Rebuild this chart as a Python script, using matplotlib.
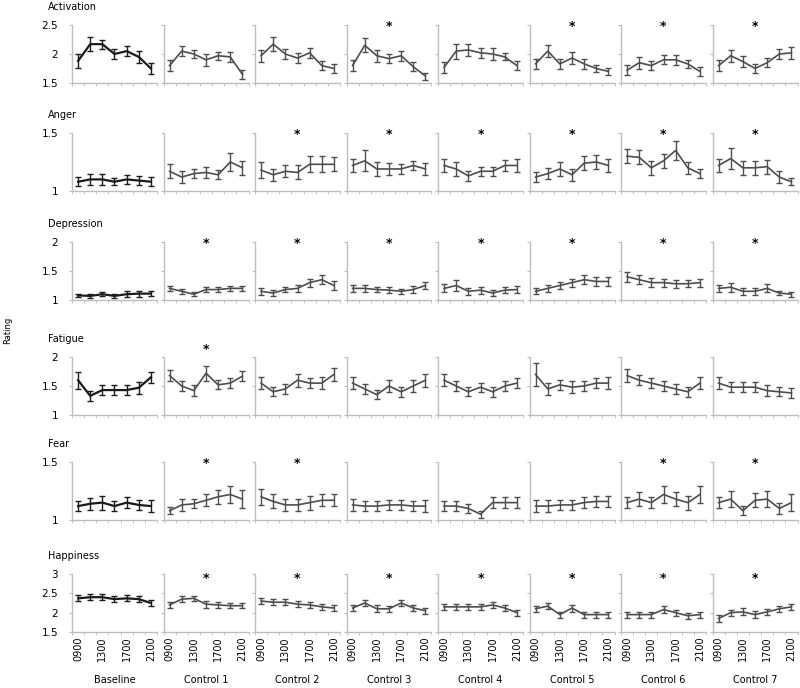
import numpy as np
import matplotlib
matplotlib.use('Agg')
import matplotlib.pyplot as plt

hours = ['0900', '1100', '1300', '1500', '1700', '1900', '2100']
conditions = ['Baseline', 'Control 1', 'Control 2', 'Control 3', 'Control 4',
              'Control 5', 'Control 6', 'Control 7']
moods = ['Activation', 'Anger', 'Depression', 'Fatigue', 'Fear', 'Happiness']

# mean rating per condition (rows = conditions, cols = hours)
activation = [
    [1.88, 2.17, 2.17, 2.00, 2.05, 1.95, 1.75],
    [1.80, 2.05, 2.00, 1.90, 1.97, 1.95, 1.65],
    [1.97, 2.17, 2.00, 1.93, 2.02, 1.80, 1.75],
    [1.80, 2.15, 1.97, 1.92, 1.97, 1.78, 1.62],
    [1.77, 2.05, 2.07, 2.02, 2.00, 1.95, 1.80],
    [1.83, 2.05, 1.83, 1.93, 1.83, 1.75, 1.70],
    [1.72, 1.85, 1.80, 1.90, 1.90, 1.83, 1.70],
    [1.80, 1.97, 1.87, 1.75, 1.85, 2.00, 2.02],
]
activation_err = [
    [0.12, 0.12, 0.08, 0.08, 0.09, 0.10, 0.10],
    [0.10, 0.08, 0.07, 0.10, 0.07, 0.09, 0.08],
    [0.10, 0.12, 0.08, 0.09, 0.09, 0.08, 0.08],
    [0.09, 0.12, 0.10, 0.08, 0.09, 0.08, 0.06],
    [0.10, 0.13, 0.10, 0.09, 0.10, 0.06, 0.08],
    [0.09, 0.10, 0.09, 0.11, 0.08, 0.06, 0.06],
    [0.09, 0.10, 0.08, 0.08, 0.09, 0.07, 0.08],
    [0.09, 0.10, 0.10, 0.07, 0.08, 0.08, 0.10],
]
anger = [
    [1.08, 1.10, 1.10, 1.08, 1.10, 1.09, 1.08],
    [1.17, 1.12, 1.15, 1.16, 1.14, 1.25, 1.20],
    [1.18, 1.14, 1.17, 1.16, 1.23, 1.23, 1.23],
    [1.22, 1.26, 1.19, 1.19, 1.19, 1.22, 1.19],
    [1.22, 1.19, 1.13, 1.17, 1.17, 1.22, 1.22],
    [1.12, 1.15, 1.19, 1.14, 1.24, 1.25, 1.22],
    [1.30, 1.29, 1.20, 1.26, 1.35, 1.20, 1.15],
    [1.22, 1.28, 1.20, 1.20, 1.21, 1.12, 1.08],
]
anger_err = [
    [0.04, 0.05, 0.05, 0.03, 0.04, 0.04, 0.04],
    [0.06, 0.05, 0.04, 0.05, 0.04, 0.08, 0.06],
    [0.07, 0.05, 0.05, 0.06, 0.07, 0.07, 0.06],
    [0.06, 0.09, 0.06, 0.05, 0.04, 0.04, 0.05],
    [0.06, 0.06, 0.04, 0.04, 0.04, 0.05, 0.06],
    [0.04, 0.05, 0.06, 0.05, 0.06, 0.06, 0.06],
    [0.06, 0.06, 0.06, 0.06, 0.08, 0.05, 0.04],
    [0.06, 0.09, 0.06, 0.06, 0.06, 0.05, 0.03],
]
depression = [
    [1.08, 1.07, 1.10, 1.07, 1.10, 1.11, 1.11],
    [1.20, 1.15, 1.10, 1.18, 1.18, 1.20, 1.20],
    [1.15, 1.12, 1.18, 1.20, 1.30, 1.35, 1.25],
    [1.20, 1.20, 1.18, 1.17, 1.15, 1.18, 1.25],
    [1.20, 1.25, 1.15, 1.17, 1.12, 1.17, 1.18],
    [1.15, 1.20, 1.25, 1.30, 1.35, 1.32, 1.32],
    [1.40, 1.35, 1.30, 1.30, 1.28, 1.28, 1.30],
    [1.20, 1.22, 1.15, 1.15, 1.20, 1.12, 1.10],
]
depression_err = [
    [0.03, 0.04, 0.03, 0.03, 0.05, 0.05, 0.04],
    [0.05, 0.04, 0.03, 0.05, 0.05, 0.05, 0.05],
    [0.06, 0.05, 0.05, 0.06, 0.07, 0.08, 0.07],
    [0.06, 0.06, 0.05, 0.05, 0.04, 0.06, 0.06],
    [0.07, 0.10, 0.06, 0.06, 0.05, 0.05, 0.06],
    [0.05, 0.06, 0.06, 0.07, 0.08, 0.07, 0.07],
    [0.09, 0.08, 0.08, 0.07, 0.07, 0.06, 0.07],
    [0.06, 0.08, 0.06, 0.06, 0.07, 0.04, 0.04],
]
fatigue = [
    [1.60, 1.33, 1.43, 1.43, 1.43, 1.47, 1.65],
    [1.68, 1.50, 1.42, 1.72, 1.52, 1.55, 1.67],
    [1.55, 1.40, 1.45, 1.60, 1.55, 1.55, 1.70],
    [1.55, 1.45, 1.35, 1.50, 1.40, 1.50, 1.60],
    [1.60, 1.50, 1.40, 1.48, 1.40, 1.50, 1.55],
    [1.70, 1.45, 1.52, 1.48, 1.50, 1.55, 1.55],
    [1.68, 1.60, 1.55, 1.50, 1.45, 1.40, 1.55],
    [1.55, 1.48, 1.48, 1.48, 1.42, 1.40, 1.38],
]
fatigue_err = [
    [0.15, 0.08, 0.09, 0.09, 0.09, 0.10, 0.09],
    [0.10, 0.09, 0.09, 0.13, 0.08, 0.09, 0.09],
    [0.10, 0.08, 0.09, 0.11, 0.09, 0.10, 0.11],
    [0.10, 0.09, 0.08, 0.10, 0.09, 0.10, 0.11],
    [0.10, 0.09, 0.08, 0.08, 0.09, 0.09, 0.09],
    [0.20, 0.10, 0.09, 0.10, 0.09, 0.09, 0.10],
    [0.11, 0.09, 0.09, 0.09, 0.09, 0.09, 0.11],
    [0.10, 0.09, 0.09, 0.09, 0.09, 0.08, 0.08],
]
fear = [
    [1.12, 1.14, 1.15, 1.12, 1.15, 1.13, 1.12],
    [1.08, 1.13, 1.14, 1.17, 1.20, 1.22, 1.18],
    [1.20, 1.16, 1.13, 1.13, 1.15, 1.17, 1.17],
    [1.13, 1.12, 1.12, 1.13, 1.13, 1.12, 1.12],
    [1.12, 1.12, 1.10, 1.05, 1.15, 1.15, 1.15],
    [1.12, 1.12, 1.13, 1.13, 1.15, 1.16, 1.16],
    [1.15, 1.18, 1.15, 1.22, 1.18, 1.15, 1.22],
    [1.15, 1.18, 1.08, 1.17, 1.18, 1.10, 1.15],
]
fear_err = [
    [0.04, 0.05, 0.06, 0.04, 0.05, 0.04, 0.05],
    [0.03, 0.05, 0.04, 0.05, 0.06, 0.07, 0.08],
    [0.07, 0.06, 0.05, 0.05, 0.06, 0.05, 0.05],
    [0.05, 0.04, 0.04, 0.04, 0.04, 0.04, 0.05],
    [0.04, 0.04, 0.04, 0.03, 0.05, 0.05, 0.05],
    [0.05, 0.05, 0.04, 0.04, 0.05, 0.05, 0.05],
    [0.05, 0.06, 0.05, 0.07, 0.06, 0.06, 0.07],
    [0.05, 0.07, 0.04, 0.06, 0.07, 0.05, 0.07],
]
happiness = [
    [2.37, 2.40, 2.40, 2.35, 2.37, 2.35, 2.25],
    [2.20, 2.35, 2.37, 2.22, 2.20, 2.18, 2.18],
    [2.30, 2.27, 2.27, 2.22, 2.20, 2.15, 2.12],
    [2.12, 2.25, 2.10, 2.10, 2.25, 2.12, 2.05],
    [2.15, 2.15, 2.15, 2.15, 2.20, 2.12, 2.00],
    [2.10, 2.17, 1.95, 2.12, 1.95, 1.95, 1.95],
    [1.95, 1.95, 1.95, 2.08, 2.00, 1.92, 1.95],
    [1.85, 2.00, 2.02, 1.95, 2.02, 2.10, 2.15],
]
happiness_err = [
    [0.08, 0.08, 0.07, 0.08, 0.08, 0.08, 0.07],
    [0.07, 0.07, 0.07, 0.09, 0.07, 0.07, 0.07],
    [0.07, 0.08, 0.08, 0.08, 0.07, 0.07, 0.07],
    [0.08, 0.08, 0.09, 0.08, 0.07, 0.07, 0.08],
    [0.08, 0.08, 0.08, 0.08, 0.07, 0.07, 0.08],
    [0.07, 0.08, 0.08, 0.09, 0.08, 0.08, 0.08],
    [0.08, 0.08, 0.08, 0.09, 0.08, 0.08, 0.08],
    [0.08, 0.08, 0.09, 0.09, 0.08, 0.07, 0.08],
]

# significant-difference markers: which conditions get a '*' above 1500
stars = {
    'Activation': [3, 5, 6, 7],
    'Anger': [2, 3, 4, 5, 6, 7],
    'Depression': [1, 2, 3, 4, 5, 6, 7],
    'Fatigue': [1],
    'Fear': [1, 2, 6, 7],
    'Happiness': [1, 2, 3, 4, 5, 6, 7],
}
ylims = {
    'Activation': (1.5, 2.5, [1.5, 2, 2.5]),
    'Anger': (1, 1.5, [1, 1.5]),
    'Depression': (1, 2, [1, 1.5, 2]),
    'Fatigue': (1, 2, [1, 1.5, 2]),
    'Fear': (1, 1.5, [1, 1.5]),
    'Happiness': (1.5, 3, [1.5, 2, 2.5, 3]),
}
means = [activation, anger, depression, fatigue, fear, happiness]
errs = [activation_err, anger_err, depression_err, fatigue_err, fear_err, happiness_err]

W, H = 800, 688
fig = plt.figure(figsize=(W / 100, H / 100), dpi=100)

col_left = [72, 163.5, 255, 346.5, 438, 529.5, 621, 712.5]
col_w = 85
row_top = [25, 133, 242, 357, 462, 574]
row_h = 58
star_y = [0.98, 0.98, 0.98, 1.13, 0.98, 0.93]

grey = '#bdbdbd'
x = np.arange(len(hours))

for r, mood in enumerate(moods):
    lo, hi, yt = ylims[mood]
    for c, cond in enumerate(conditions):
        ax = fig.add_axes([col_left[c] / W, 1 - (row_top[r] + row_h) / H,
                           col_w / W, row_h / H])
        col = '#1a1a1a' if c == 0 else '#4d4d4d'
        lw = 1.6 if c == 0 else 1.2
        ax.errorbar(x, means[r][c], yerr=errs[r][c], color=col, lw=lw,
                    elinewidth=1.0, capsize=2, capthick=1.0)
        ax.set_xlim(-0.5, 6.5)
        ax.set_ylim(lo, hi)
        ax.set_yticks(yt)
        for s in ['top', 'right']:
            ax.spines[s].set_visible(False)
        for s in ['left', 'bottom']:
            ax.spines[s].set_color(grey)
            ax.spines[s].set_linewidth(1.0)
        ax.tick_params(axis='y', length=2, color=grey, labelsize=7.5, pad=8)
        ax.set_xticks(np.arange(-0.5, 7, 1), minor=True)
        ax.tick_params(axis='x', which='minor', length=2, color=grey)
        ax.set_xticks(x[::2])
        ax.tick_params(axis='x', which='major', length=0, labelsize=7)
        if r == len(moods) - 1:
            ax.set_xticklabels(hours[::2], rotation=90)
        else:
            ax.set_xticklabels([])
        if c != 0:
            ax.set_yticklabels([])
        else:
            ax.set_yticklabels(['%g' % v for v in yt])
        if c in stars[mood]:
            ax.text(3, star_y[r], '*', transform=ax.get_xaxis_transform(),
                    ha='center', va='center', fontsize=9, fontweight='bold',
                    clip_on=False)
        if r == len(moods) - 1:
            ax.text(0.5, -0.82, cond, transform=ax.transAxes, ha='center',
                    va='center', fontsize=7)
    fig.text(48 / W, 1 - (row_top[r] - 18) / H, mood, fontsize=7,
             ha='left', va='center')

fig.text(8 / W, 1 - 330 / H, 'Rating', rotation=90, fontsize=6,
         ha='center', va='center')

fig.savefig('out.png', dpi=100)
